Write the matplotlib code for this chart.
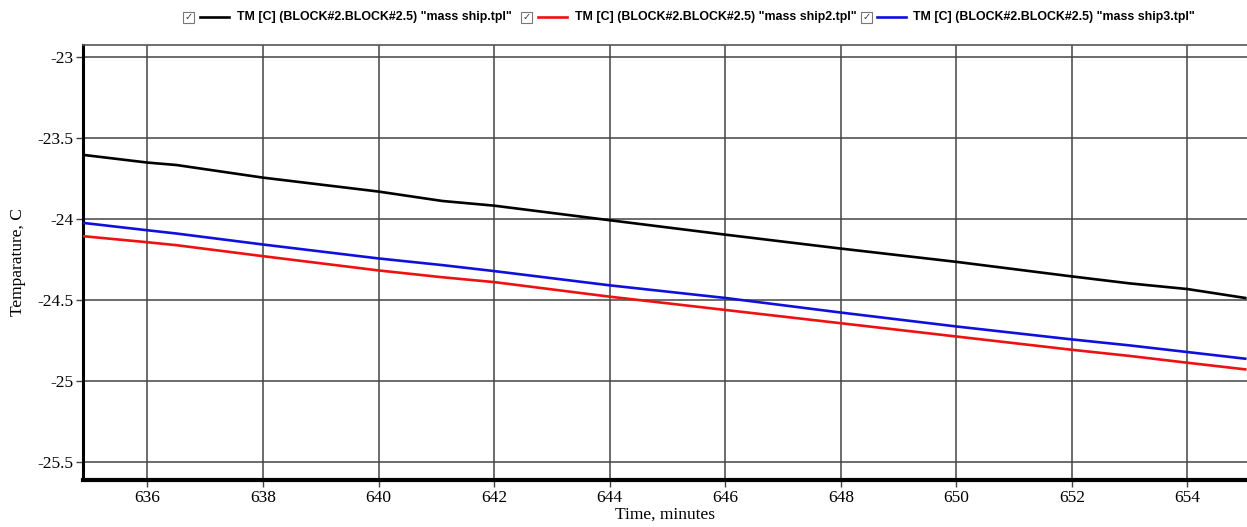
import matplotlib
matplotlib.use("Agg")
import matplotlib.pyplot as plt
from matplotlib.lines import Line2D
from matplotlib.patches import Rectangle

# time axis, minutes
time_min = [634.9, 636.0, 636.5, 638.0, 640.0, 641.1, 642.0, 644.0, 646.0, 648.0,
            650.0, 652.0, 653.0, 654.0, 655.0]

# Temperatures
temp_ship = [-23.605, -23.652, -23.667, -23.745, -23.831, -23.889, -23.918, -24.008,
             -24.097, -24.183, -24.265, -24.355, -24.398, -24.433, -24.488]
temp_ship2 = [-24.107, -24.144, -24.162, -24.230, -24.318, -24.360, -24.390, -24.480,
              -24.562, -24.644, -24.726, -24.808, -24.846, -24.888, -24.929]
temp_ship3 = [-24.025, -24.070, -24.090, -24.158, -24.244, -24.285, -24.322, -24.410,
              -24.488, -24.578, -24.664, -24.744, -24.781, -24.822, -24.863]

labels = ['TM [C] (BLOCK#2.BLOCK#2.5) "mass ship.tpl"',
          'TM [C] (BLOCK#2.BLOCK#2.5) "mass ship2.tpl"',
          'TM [C] (BLOCK#2.BLOCK#2.5) "mass ship3.tpl"']
colors = ['black', '#ee1111', '#1010dd']

x_ticks = [636, 638, 640, 642, 644, 646, 648, 650, 652, 654]
y_ticks = [-23, -23.5, -24, -24.5, -25, -25.5]

fig = plt.figure(figsize=(12.47, 5.27), dpi=100)
ax = fig.add_axes([83 / 1247, 1 - 480 / 527, 1 - 83 / 1247, (480 - 45) / 527])

for ys, c in zip([temp_ship, temp_ship2, temp_ship3], colors):
    ax.plot(time_min, ys, color=c, lw=1.9, zorder=3)

ax.set_xlim(634.884, 655.03)
ax.set_ylim(-25.612, -22.926)
ax.set_xticks(x_ticks)
ax.set_yticks(y_ticks)
ax.set_yticklabels([f'{v:g}' for v in y_ticks])
ax.grid(True, color='#444444', lw=1.1)

serif = ['Liberation Serif', 'DejaVu Serif']
for lab in ax.get_xticklabels() + ax.get_yticklabels():
    lab.set_family(serif)
    lab.set_fontsize(12.5)
ax.tick_params(axis='both', direction='out', length=5, width=1, color='#444444', pad=2)

ax.spines['left'].set_linewidth(2.2)
ax.spines['bottom'].set_linewidth(3)
ax.spines['top'].set_color('#555555')
ax.spines['top'].set_linewidth(1.2)
ax.spines['right'].set_visible(False)

ax.set_ylabel('Temparature, C', family=serif, fontsize=12.5, labelpad=8)
ax.set_xlabel('Time, minutes', family=serif, fontsize=12.5, labelpad=1)

# legend row across the top, drawn by hand with check boxes
W, H = 1247, 527
legend_y = 1 - 17 / H
box_x = [183, 521, 861]
line_x = [200, 538, 877]
text_x = [237, 575, 913]
for bx, lx, tx, c, txt in zip(box_x, line_x, text_x, colors, labels):
    fig.patches.append(Rectangle((bx / W, legend_y - 5.5 / H), 11 / W, 11 / H,
                                 transform=fig.transFigure, fill=False,
                                 edgecolor='#777777', lw=0.8))
    fig.text((bx + 5.5) / W, legend_y, '\u2713', ha='center', va='center',
             fontsize=7, color='#333333', family='DejaVu Sans')
    fig.lines.append(Line2D([lx / W, (lx + 29) / W], [legend_y, legend_y],
                            transform=fig.transFigure, color=c, lw=1.9))
    fig.text(tx / W, legend_y, txt, ha='left', va='center', fontsize=8.9,
             fontweight='bold', family=['Liberation Sans', 'DejaVu Sans'])

fig.savefig('out.png', dpi=100)
